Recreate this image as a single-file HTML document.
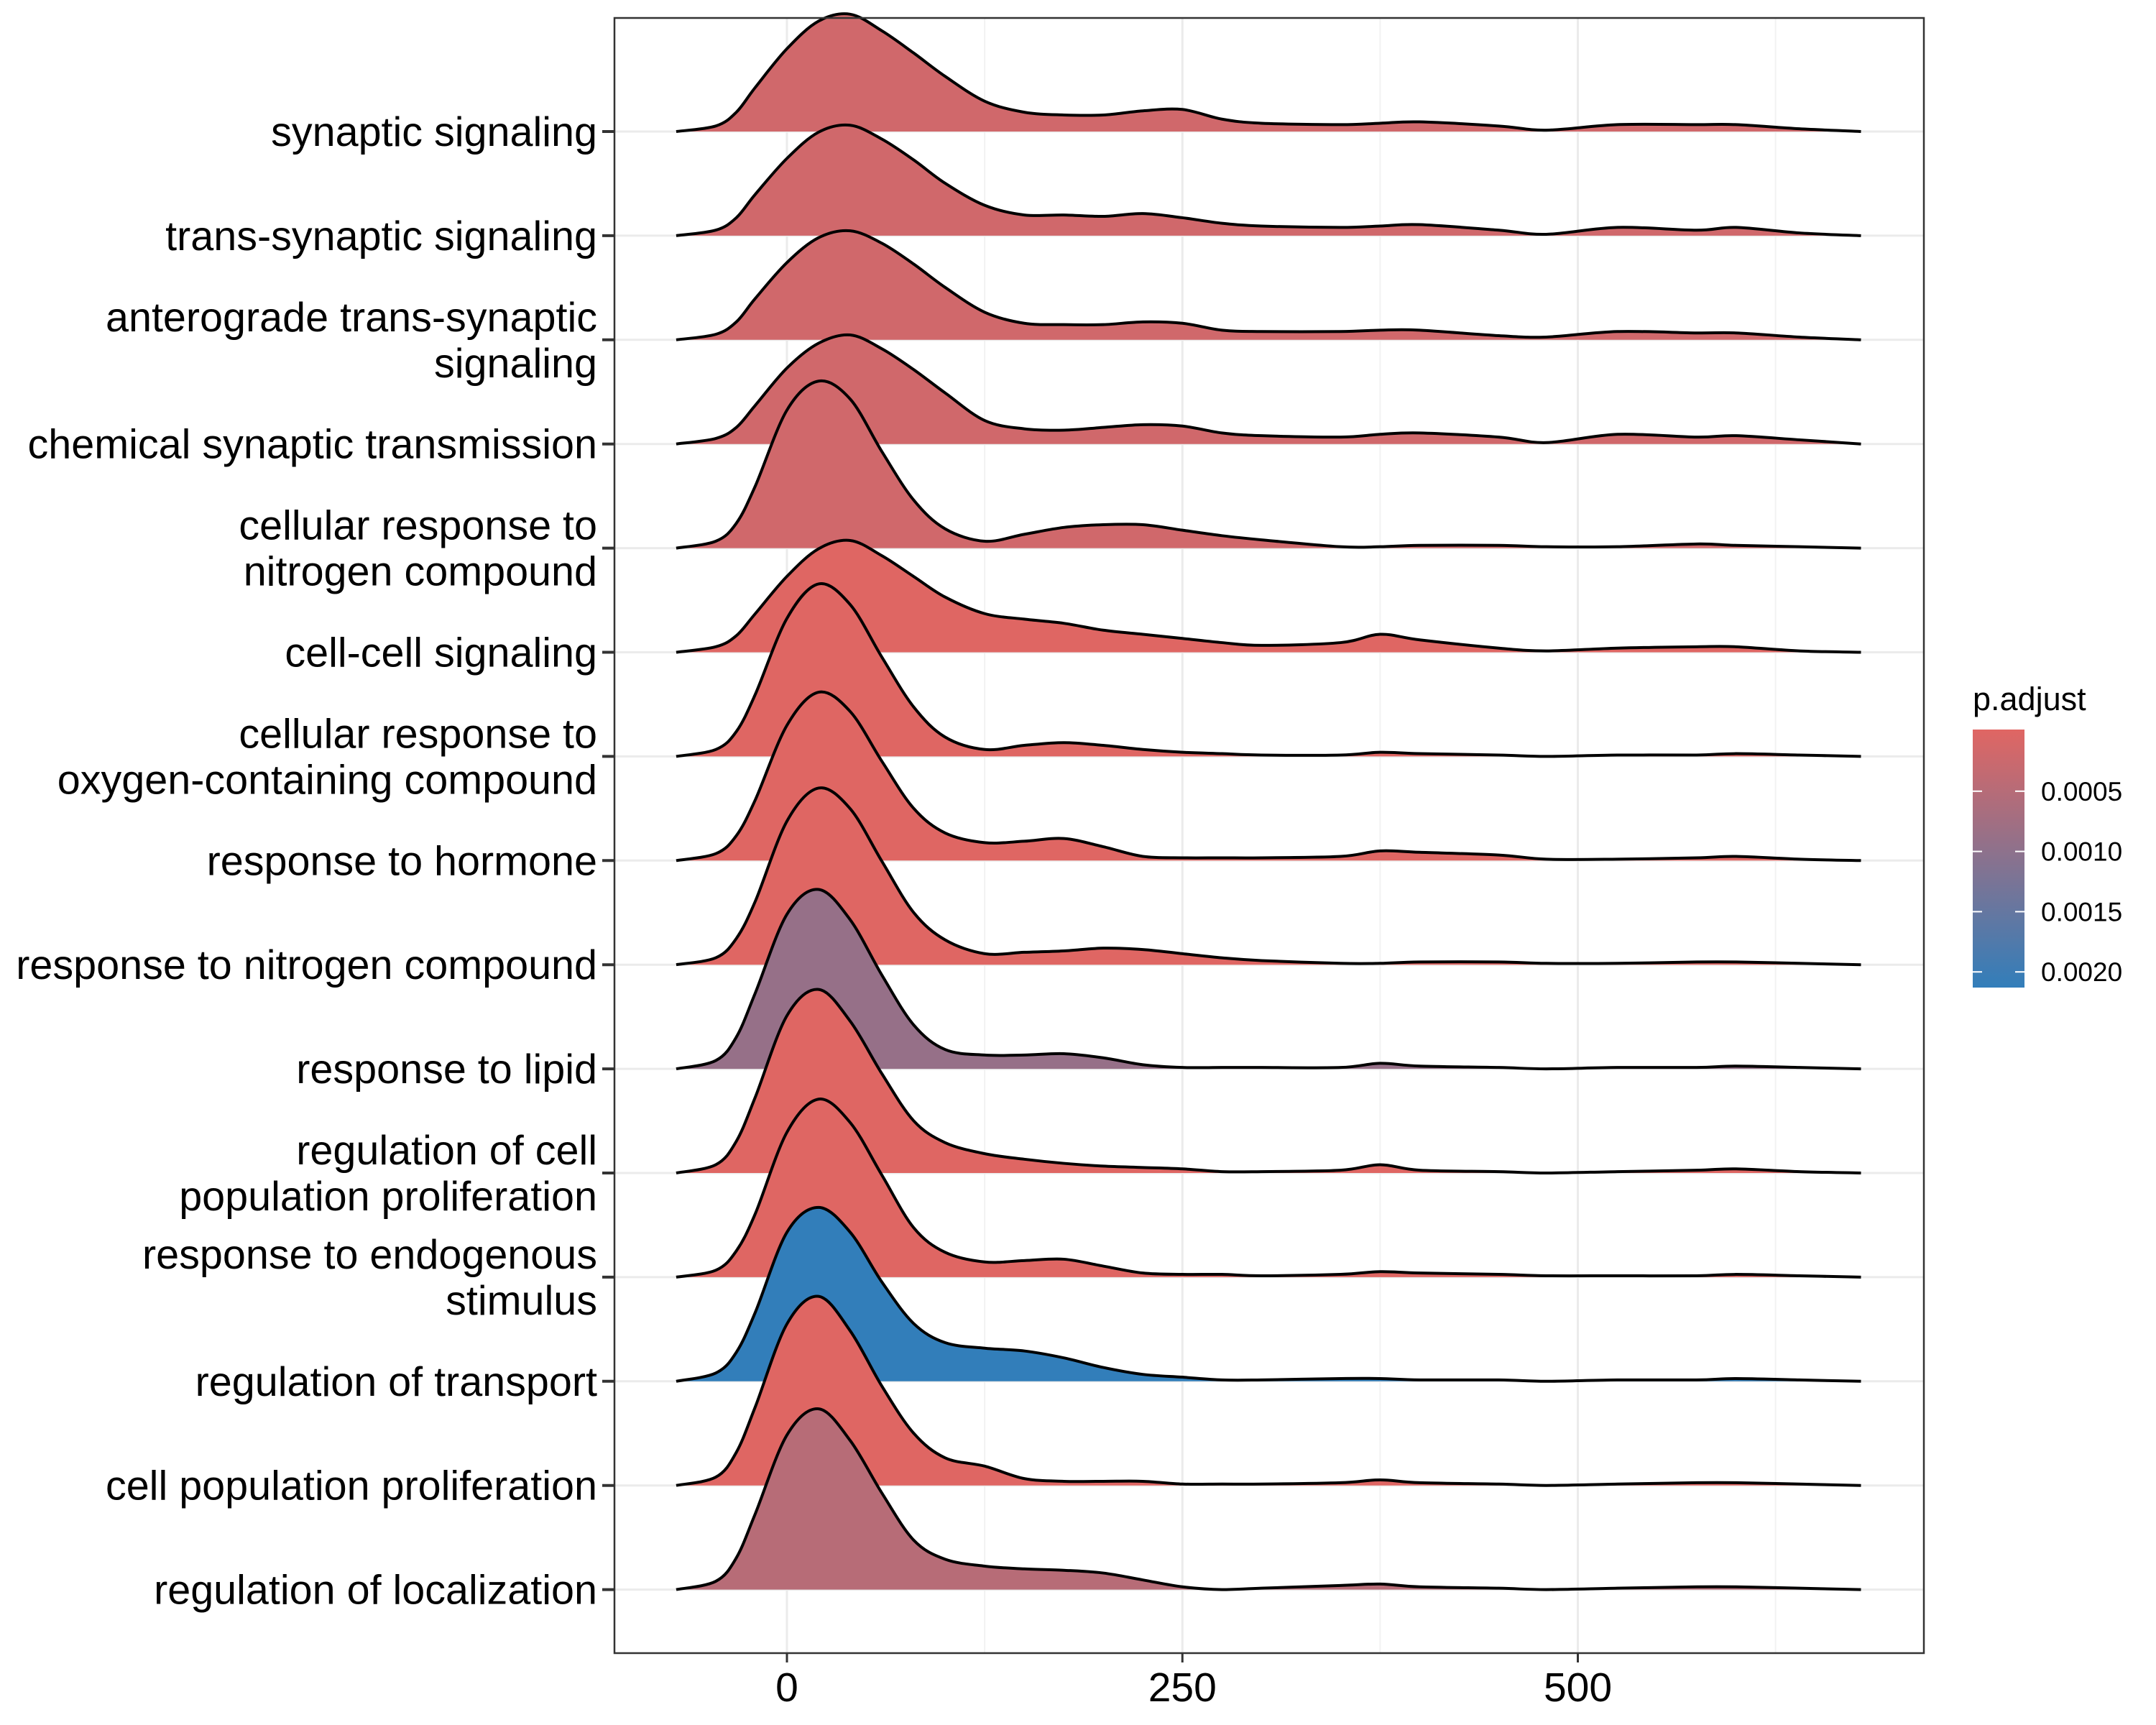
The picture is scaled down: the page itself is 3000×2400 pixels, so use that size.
<!DOCTYPE html>
<html><head><meta charset="utf-8"><style>
html,body{margin:0;padding:0;background:#fff;}
svg{display:block;font-family:"Liberation Sans",Arial,sans-serif;}
</style></head><body>
<svg id="chart" width="3000" height="2400" viewBox="0 0 3000 2400" xmlns="http://www.w3.org/2000/svg">
<rect x="0" y="0" width="3000" height="2400" fill="#fff"/>
<g id="grid"></g>
<g id="ridges"></g>
<rect x="855" y="25" width="1822" height="2275" fill="none" stroke="#333" stroke-width="2.5"/>
<g id="yaxis"></g>
<g id="xaxis"></g>
<g id="legend">
<defs><linearGradient id="cg" x1="0" y1="0" x2="0" y2="1"><stop offset="0" stop-color="#E06663"/><stop offset="1" stop-color="#327EBA"/></linearGradient></defs>
<text x="2745" y="988" font-size="45" fill="#000">p.adjust</text>
<rect x="2745" y="1015" width="72" height="359" fill="url(#cg)"/>
</g>
</svg>
<script>
const categories = ["synaptic signaling","trans-synaptic signaling","anterograde trans-synaptic|signaling","chemical synaptic transmission","cellular response to|nitrogen compound","cell-cell signaling","cellular response to|oxygen-containing compound","response to hormone","response to nitrogen compound","response to lipid","regulation of cell|population proliferation","response to endogenous|stimulus","regulation of transport","cell population proliferation","regulation of localization"];
const pAdjust = [0.0002,0.0002,0.0002,0.0002,0.0002,0.00001,0.00001,0.00001,0.00001,0.0009,0.00001,0.00001,0.00213,0.00001,0.0005];
const xGrid = [-70,-45,-32,-20,0,20,40,60,80,100,125,150,175,200,225,250,275,300,350,375,400,450,480,525,575,600,640,679];
const r1 = [0,4,14,32,60,80,85,73,57,40,22,14,12,12,15,16,9,6,5,6,7,4,1,5,5,5,2,0];
const r2 = [0,4,13,30,56,75,80,70,55,38,22,15,15,14,16,13,9,7,6,7,8,4,1,6,4,6,2,0];
const r3 = [0,4,13,30,56,74,79,70,55,38,20,12,11,11,13,12,7,6,6,7,7,3,2,6,5,5,2,0];
const r4 = [0,4,12,28,55,73,79,69,54,37,17,11,10,12,14,13,8,6,5,7,8,5,1,7,5,6,3,0];
const r5 = [0,5,18,45,100,121,108,70,35,14,5,10,15,17,17,13,9,6,1,1,2,2,1,1,3,2,1,0];
const r6 = [0,4,12,28,55,75,81,70,55,40,28,24,21,16,13,10,7,5,7,13,9,3,1,3,4,4,1,0];
const r7 = [0,5,18,45,100,125,110,72,36,14,5,8,10,8,5,3,2,1,1,3,2,1,0,1,1,2,1,0];
const r8 = [0,5,18,44,98,122,108,72,38,20,13,14,16,10,3,2,2,2,3,7,6,4,1,1,2,3,1,0];
const r9 = [0,5,19,46,104,128,113,75,38,18,8,9,10,12,11,8,5,3,1,1,2,2,1,1,2,2,1,0];
const r10 = [0,6,23,55,112,130,108,68,32,14,10,10,11,8,3,1,1,1,1,4,2,1,0,1,1,2,1,0];
const r11 = [0,6,23,55,114,133,110,72,38,22,14,10,7,5,4,3,1,1,2,6,2,1,0,1,2,3,1,0];
const r12 = [0,5,19,46,105,129,112,74,36,18,11,12,13,8,3,2,2,1,2,4,3,2,1,1,1,2,1,0];
const r13 = [0,6,21,50,108,126,108,72,42,28,24,22,17,10,5,3,1,1,2,2,1,1,0,1,1,2,1,0];
const r14 = [0,6,24,57,117,137,112,72,38,20,14,5,3,3,3,1,1,1,2,4,2,1,0,1,2,2,1,0];
const r15 = [0,6,23,55,112,131,108,70,36,22,17,15,14,12,7,2,0,1,3,4,2,1,0,1,2,2,1,0];
const densities = [r1,r2,r3,r4,r5,r6,r7,r8,r9,r10,r11,r12,r13,r14,r15];
const xTicks = [0,250,500];
const xMinor = [125,375,625];
const legendTicks = [0.0005,0.0010,0.0015,0.0020];
const legendLabels = ["0.0005","0.0010","0.0015","0.0020"];

const NS="http://www.w3.org/2000/svg";
const X = v => 1095 + v*2.201;
const Y0 = i => 183 + i*144.9;
const H = h => h*1.92;
const pMin=0, pMax=0.00213;
const LY = p => 1017 + (p-pMin)/(pMax-pMin)*357;
function col(p){const t=(p-pMin)/(pMax-pMin);const a=[224,102,99],b=[50,126,186];return `rgb(${a.map((c,k)=>Math.round(c+(b[k]-c)*t)).join(',')})`;}
function mk(tag,attrs,parent){const e=document.createElementNS(NS,tag);for(const k in attrs)e.setAttribute(k,attrs[k]);parent.appendChild(e);return e;}
const grid=document.getElementById('grid'),ridges=document.getElementById('ridges'),ya=document.getElementById('yaxis'),xa=document.getElementById('xaxis'),lg=document.getElementById('legend');
xMinor.forEach(v=>{const l=mk('line',{x1:X(v),x2:X(v),y1:25,y2:2300,stroke:'#F2F2F2','stroke-width':2},grid);

});
xTicks.forEach(v=>{const l=mk('line',{x1:X(v),x2:X(v),y1:25,y2:2300,stroke:'#EBEBEB','stroke-width':3},grid);

});
categories.forEach((c,i)=>{const l=mk('line',{x1:855,x2:2677,y1:Y0(i),y2:Y0(i),stroke:'#EBEBEB','stroke-width':3},grid);

});
function pathFor(i){const d=densities[i];const pts=xGrid.map((v,k)=>[X(v),Y0(i)-H(d[k])]);
let s=`M${pts[0][0]},${pts[0][1]}`;
for(let k=0;k<pts.length-1;k++){const p0=pts[Math.max(0,k-1)],p1=pts[k],p2=pts[k+1],p3=pts[Math.min(pts.length-1,k+2)];
const c1=[p1[0]+(p2[0]-p0[0])/6,p1[1]+(p2[1]-p0[1])/6],c2=[p2[0]-(p3[0]-p1[0])/6,p2[1]-(p3[1]-p1[1])/6];
c1[1]=Math.min(c1[1],Y0(i));c2[1]=Math.min(c2[1],Y0(i));
s+=` C${c1[0]},${c1[1]} ${c2[0]},${c2[1]} ${p2[0]},${p2[1]}`;}
return s;}
categories.forEach((c,i)=>{const s=pathFor(i);
const f=mk('path',{d:s+` L${X(xGrid[xGrid.length-1])},${Y0(i)} L${X(xGrid[0])},${Y0(i)} Z`,fill:col(pAdjust[i]),stroke:'none'},ridges);


const l=mk('path',{d:s,fill:'none',stroke:'#000','stroke-width':4},ridges);


const tk=mk('line',{x1:838,x2:855,y1:Y0(i),y2:Y0(i),stroke:'#333','stroke-width':4},ya);


const parts=c.split('|');
parts.forEach((p,k)=>{const yy=parts.length===1?Y0(i)+20:(k===0?Y0(i)-12:Y0(i)+52);
const t=mk('text',{x:831,y:yy,'text-anchor':'end','font-size':57.5,fill:'#000'},ya);t.textContent=p;

});
});
xTicks.forEach((v,k)=>{const tk=mk('line',{x1:X(v),x2:X(v),y1:2300,y2:2313,stroke:'#333','stroke-width':3},xa);


const t=mk('text',{x:X(v),y:2367,'text-anchor':'middle','font-size':57,fill:'#000'},xa);t.textContent=String(v);

});
legendTicks.forEach((p,k)=>{const y=LY(p);
const a=mk('line',{x1:2745,x2:2758,y1:y,y2:y,stroke:'#fff','stroke-width':2},lg);


const b=mk('line',{x1:2804,x2:2817,y1:y,y2:y,stroke:'#fff','stroke-width':2},lg);


const t=mk('text',{x:2840,y:y+13,'font-size':37,fill:'#000'},lg);t.textContent=legendLabels[k];

});
</script>
</body></html>
